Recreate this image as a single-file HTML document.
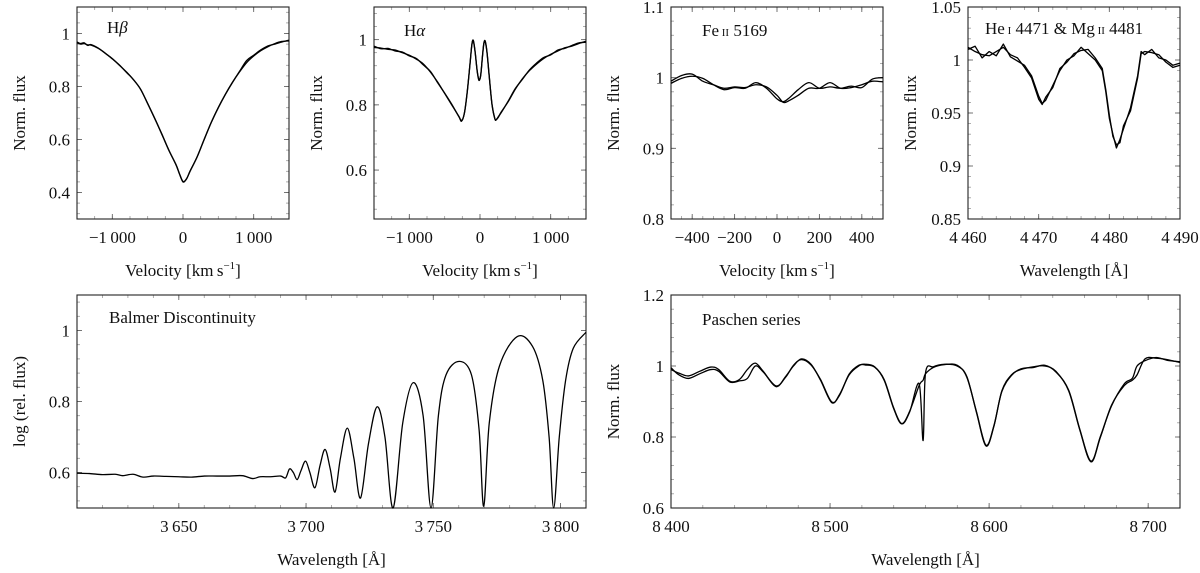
<!DOCTYPE html>
<html><head><meta charset="utf-8"><style>
html,body{margin:0;padding:0;background:#fff;}
svg{display:block;}
svg text{font-family:"Liberation Serif","DejaVu Serif",serif;}
</style></head><body>
<svg id="fig" width="1200" height="573" viewBox="0 0 1200 573" xmlns="http://www.w3.org/2000/svg"></svg>
<script>
// ---- Data ----
const hbVel=[-1500,-1450,-1400,-1350,-1300,-1200,-1100,-1000,-900,-800,-700,-600,-500,-400,-300,-200,-100,-50,0,50,100,200,300,400,500,600,700,800,900,1000,1100,1200,1300,1400,1500];
const hbFluxA=[0.968,0.962,0.965,0.955,0.958,0.945,0.925,0.905,0.88,0.855,0.825,0.79,0.735,0.68,0.62,0.56,0.505,0.47,0.44,0.452,0.48,0.535,0.6,0.665,0.72,0.77,0.815,0.855,0.89,0.915,0.935,0.95,0.962,0.97,0.972];
const hbFluxB=[0.965,0.96,0.962,0.957,0.956,0.944,0.926,0.904,0.881,0.853,0.826,0.789,0.736,0.679,0.621,0.559,0.506,0.471,0.442,0.451,0.481,0.534,0.601,0.664,0.721,0.771,0.816,0.857,0.898,0.918,0.938,0.953,0.96,0.968,0.975];
const haVel=[-1500,-1400,-1300,-1200,-1100,-1000,-900,-800,-700,-600,-500,-400,-300,-260,-220,-180,-140,-115,-95,-70,-40,-15,10,35,55,75,100,130,170,210,230,260,300,400,500,600,700,800,900,1000,1100,1200,1300,1400,1500];
const haFluxA=[0.976,0.974,0.97,0.968,0.96,0.952,0.94,0.925,0.9,0.87,0.835,0.8,0.765,0.752,0.775,0.84,0.93,0.985,0.998,0.965,0.905,0.878,0.89,0.95,0.99,0.995,0.96,0.89,0.8,0.757,0.755,0.762,0.778,0.81,0.848,0.88,0.905,0.925,0.942,0.955,0.965,0.975,0.98,0.988,0.995];
const haFluxB=[0.98,0.972,0.973,0.965,0.962,0.95,0.942,0.922,0.902,0.868,0.836,0.802,0.764,0.75,0.776,0.842,0.928,0.984,0.996,0.963,0.903,0.875,0.892,0.948,0.988,0.992,0.958,0.888,0.802,0.758,0.754,0.764,0.776,0.812,0.85,0.878,0.907,0.928,0.945,0.953,0.968,0.973,0.982,0.99,0.992];
const feVel=[-500,-450,-400,-350,-300,-250,-200,-150,-100,-50,0,30,60,100,150,200,250,300,350,400,450,500];
const feFluxA=[0.995,1.003,1.005,0.995,0.99,0.985,0.987,0.986,0.99,0.987,0.975,0.965,0.968,0.975,0.985,0.985,0.993,0.985,0.986,0.99,0.995,0.994];
const feFluxB=[0.992,0.999,1.002,0.999,0.99,0.983,0.986,0.985,0.993,0.985,0.97,0.966,0.972,0.983,0.993,0.985,0.987,0.985,0.988,0.986,0.998,1.0];
const heWave=[4460,4461,4462,4463,4464,4465,4466,4467,4468,4469,4470,4470.5,4471,4472,4473,4474,4475,4476,4477,4478,4479,4479.5,4480,4480.5,4481,4481.5,4482,4483,4484,4484.5,4485,4486,4487,4488,4489,4490];
const heFluxA=[1.01,1.013,1.002,1.008,1.004,1.015,1.003,0.999,0.995,0.985,0.966,0.959,0.962,0.976,0.99,1.0,1.004,1.012,1.006,1.0,0.99,0.97,0.945,0.93,0.917,0.925,0.935,0.955,0.985,1.008,1.005,1.01,1.002,1.0,0.995,0.997];
const heFluxB=[1.012,1.008,1.005,1.004,1.008,1.012,1.005,1.002,0.993,0.983,0.963,0.958,0.965,0.974,0.992,0.998,1.006,1.009,1.01,1.002,0.992,0.972,0.948,0.928,0.92,0.922,0.938,0.952,0.983,1.006,1.008,1.007,1.005,0.998,0.993,0.995];
const bdWave=[3610,3615,3620,3625,3628,3632,3636,3640,3645,3650,3655,3660,3665,3670,3675,3679,3682,3686,3690,3692,3693.5,3695,3696.5,3698,3699.8,3701.5,3703.5,3705.5,3707.5,3709.5,3711.4,3713.5,3716.2,3718.8,3721.4,3724.5,3727.9,3731,3734.2,3738,3742.1,3746,3749.1,3752,3755,3760.2,3765,3768,3769.8,3772,3776,3783,3789,3793,3795.5,3797.3,3799.5,3802,3805,3810];
const bdFlux=[0.598,0.597,0.594,0.595,0.591,0.595,0.587,0.59,0.589,0.588,0.587,0.59,0.59,0.59,0.591,0.583,0.588,0.588,0.59,0.585,0.61,0.6,0.58,0.605,0.632,0.6,0.557,0.62,0.665,0.61,0.545,0.64,0.725,0.64,0.528,0.68,0.785,0.7,0.5,0.74,0.853,0.76,0.5,0.76,0.875,0.913,0.875,0.72,0.505,0.74,0.9,0.983,0.955,0.86,0.7,0.5,0.7,0.86,0.95,0.995];
const paWave=[8400,8405,8411,8418,8425,8430,8437,8443,8448,8453,8458,8466,8472,8477,8482,8488,8494,8501,8506,8512,8518,8522,8528,8534,8540,8545,8550,8556,8558.5,8560,8565,8572,8580,8586,8592,8598,8603,8608,8614,8620,8628,8635,8642,8650,8657,8664,8670,8677,8685,8690,8693,8698,8705,8712,8720];
const paFluxA=[0.99,0.98,0.972,0.985,0.997,0.99,0.957,0.962,0.99,1.008,0.985,0.942,0.97,1.0,1.02,1.005,0.96,0.897,0.92,0.975,1.0,1.005,0.998,0.96,0.88,0.837,0.87,0.95,0.79,0.98,0.998,1.005,1.0,0.97,0.87,0.775,0.83,0.93,0.975,0.99,0.998,1.0,0.985,0.93,0.82,0.73,0.8,0.89,0.945,0.96,0.975,1.02,1.022,1.018,1.01];
const paFluxB=[0.995,0.975,0.965,0.978,0.99,0.985,0.955,0.958,0.965,1.0,0.983,0.944,0.968,1.002,1.018,1.003,0.962,0.899,0.918,0.977,1.002,1.003,0.997,0.962,0.882,0.838,0.872,0.945,0.96,0.978,0.996,1.004,1.002,0.968,0.872,0.777,0.832,0.928,0.973,0.992,0.996,1.002,0.983,0.932,0.822,0.732,0.802,0.888,0.95,0.965,1.0,1.015,1.024,1.016,1.012];

const hbXTicks=[-1000,0,1000], hbYTicks=[0.4,0.6,0.8,1];
const haXTicks=[-1000,0,1000], haYTicks=[0.6,0.8,1];
const feXTicks=[-400,-200,0,200,400], feYTicks=[0.8,0.9,1,1.1];
const heXTicks=[4460,4470,4480,4490], heYTicks=[0.85,0.9,0.95,1,1.05];
const bdXTicks=[3650,3700,3750,3800], bdYTicks=[0.6,0.8,1];
const paXTicks=[8400,8500,8600,8700], paYTicks=[0.6,0.8,1,1.2];

const NS="http://www.w3.org/2000/svg";
const FF='"Liberation Serif","DejaVu Serif",serif';
const svg=document.getElementById('fig');
function mk(tag,attrs,parent){const e=document.createElementNS(NS,tag);for(const k in attrs)e.setAttribute(k,attrs[k]);(parent||svg).appendChild(e);return e;}
function fmt(v){let s=parseFloat(v.toFixed(3)).toString();let neg=s[0]==='-';if(neg)s=s.slice(1);if(Math.abs(v)>=1000&&s.indexOf('.')<0)s=s.replace(/\B(?=(\d{3})+$)/g,'\u2009');return (neg?'\u2212':'')+s;}

function panel(id,L,xr,yr,xt,yt,xminor,yminor,xlab,ylab){
  const g=mk('g',{});
  
  
  const sx=v=>L.x0+(v-xr[0])/(xr[1]-xr[0])*(L.x1-L.x0);
  const sy=v=>L.y1-(v-yr[0])/(yr[1]-yr[0])*(L.y1-L.y0);
  for(let v=Math.ceil(xr[0]/xminor)*xminor;v<=xr[1]+1e-9;v+=xminor){const x=sx(v);
    mk('line',{x1:x,x2:x,y1:L.y1,y2:L.y1-3,stroke:'#999','stroke-width':0.8},g);
    mk('line',{x1:x,x2:x,y1:L.y0,y2:L.y0+3,stroke:'#999','stroke-width':0.8},g);}
  for(let v=Math.ceil(yr[0]/yminor-1e-6)*yminor;v<=yr[1]+1e-9;v+=yminor){const y=sy(v);
    mk('line',{x1:L.x0,x2:L.x0+3,y1:y,y2:y,stroke:'#999','stroke-width':0.8},g);
    mk('line',{x1:L.x1,x2:L.x1-3,y1:y,y2:y,stroke:'#999','stroke-width':0.8},g);}
  const xax=mk('g',{},g);
  
  
  xt.forEach(v=>{const x=sx(v);
    mk('line',{x1:x,x2:x,y1:L.y1,y2:L.y1-5,stroke:'#666','stroke-width':0.9},xax);
    mk('line',{x1:x,x2:x,y1:L.y0,y2:L.y0+5,stroke:'#666','stroke-width':0.9},xax);
    const t=mk('text',{x:x,y:L.y1+24,'text-anchor':'middle','font-size':17,fill:'#111','font-family':FF},xax);t.textContent=fmt(v);
    
    });
  const yax=mk('g',{},g);
  
  
  yt.forEach(v=>{const y=sy(v);
    mk('line',{x1:L.x0,x2:L.x0+5,y1:y,y2:y,stroke:'#666','stroke-width':0.9},yax);
    mk('line',{x1:L.x1,x2:L.x1-5,y1:y,y2:y,stroke:'#666','stroke-width':0.9},yax);
    const t=mk('text',{x:L.x0-7,y:y+6,'text-anchor':'end','font-size':17,fill:'#111','font-family':FF},yax);t.textContent=fmt(v);
    
    });
  const fr=mk('rect',{x:L.x0,y:L.y0,width:L.x1-L.x0,height:L.y1-L.y0,fill:'none',stroke:'#222','stroke-width':1.1},g);
  
  
  const xl=mk('text',{x:(L.x0+L.x1)/2,y:L.y1+57,'text-anchor':'middle','font-size':17,fill:'#111','font-family':FF},g);
  xl.innerHTML=xlab;
  
  
  const yc=(L.y0+L.y1)/2,yx=L.x0-52;
  const yl=mk('text',{x:yx,y:yc,'text-anchor':'middle','font-size':17,fill:'#111','font-family':FF,transform:`rotate(-90 ${yx} ${yc})`},g);
  yl.textContent=ylab;
  
  
  return {g,sx,sy};
}
function series(P,xs,ys,name,smooth){
  const pts=xs.map((v,i)=>[P.sx(v),P.sy(ys[i])]);
  let d='M'+pts[0][0].toFixed(2)+','+pts[0][1].toFixed(2);
  if(smooth){for(let i=0;i<pts.length-1;i++){const p0=pts[Math.max(0,i-1)],p1=pts[i],p2=pts[i+1],p3=pts[Math.min(pts.length-1,i+2)];
    const c1=[p1[0]+(p2[0]-p0[0])/6,p1[1]+(p2[1]-p0[1])/6],c2=[p2[0]-(p3[0]-p1[0])/6,p2[1]-(p3[1]-p1[1])/6];
    d+=`C${c1[0].toFixed(2)},${c1[1].toFixed(2)} ${c2[0].toFixed(2)},${c2[1].toFixed(2)} ${p2[0].toFixed(2)},${p2[1].toFixed(2)}`;}}
  else pts.slice(1).forEach(p=>d+='L'+p[0].toFixed(2)+','+p[1].toFixed(2));
  const path=mk('path',{d:d,fill:'none',stroke:'#000','stroke-width':1.3,'stroke-linejoin':'round'},P.g);
  
  
}
function title(P,x,y,html,name){const t=mk('text',{x:x,y:y,'font-size':17,fill:'#111','font-family':FF},P.g);t.innerHTML=html;
  
  }

const vlab='Velocity [km\u2009s<tspan font-size="11" dy="-7">\u22121</tspan><tspan dy="7">]</tspan>';
const wlab='Wavelength [Å]';
const top0=7,top1=219,bot0=295,bot1=508;

let P=panel('h-beta',{x0:77,x1:289,y0:top0,y1:top1},[-1500,1500],[0.3,1.1],hbXTicks,hbYTicks,250,0.04,vlab,'Norm. flux');
series(P,hbVel,hbFluxA,'h-beta-spectrum-1',true);series(P,hbVel,hbFluxB,'h-beta-spectrum-2',true);
title(P,107,33,'H<tspan font-style="italic">β</tspan>','h-beta-title');

P=panel('h-alpha',{x0:374,x1:586,y0:top0,y1:top1},[-1500,1500],[0.45,1.1],haXTicks,haYTicks,250,0.04,vlab,'Norm. flux');
series(P,haVel,haFluxA,'h-alpha-spectrum-1',true);series(P,haVel,haFluxB,'h-alpha-spectrum-2',true);
title(P,404,36,'H<tspan font-style="italic">α</tspan>','h-alpha-title');

P=panel('fe-ii',{x0:671,x1:883,y0:top0,y1:top1},[-500,500],[0.8,1.1],feXTicks,feYTicks,50,0.02,vlab,'Norm. flux');
series(P,feVel,feFluxA,'fe-ii-spectrum-1',true);series(P,feVel,feFluxB,'fe-ii-spectrum-2',true);
title(P,702,36,'Fe<tspan font-size="11"> II</tspan> 5169','fe-ii-title');

P=panel('he-mg',{x0:968,x1:1180,y0:top0,y1:top1},[4460,4490],[0.85,1.05],heXTicks,heYTicks,2,0.01,wlab,'Norm. flux');
series(P,heWave,heFluxA,'he-mg-spectrum-1',false);series(P,heWave,heFluxB,'he-mg-spectrum-2',false);
title(P,985,34,'He<tspan font-size="11"> I</tspan> 4471 &amp; Mg<tspan font-size="11"> II</tspan> 4481','he-mg-title');

P=panel('balmer',{x0:77,x1:586,y0:bot0,y1:bot1},[3610,3810],[0.5,1.1],bdXTicks,bdYTicks,10,0.04,wlab,'log (rel. flux)');
series(P,bdWave,bdFlux,'balmer-spectrum',true);
title(P,109,323,'Balmer Discontinuity','balmer-title');

P=panel('paschen',{x0:671,x1:1180,y0:bot0,y1:bot1},[8400,8720],[0.6,1.2],paXTicks,paYTicks,20,0.04,wlab,'Norm. flux');
series(P,paWave,paFluxA,'paschen-spectrum-1',true);series(P,paWave,paFluxB,'paschen-spectrum-2',true);
title(P,702,325,'Paschen series','paschen-title');
</script>
</body></html>
